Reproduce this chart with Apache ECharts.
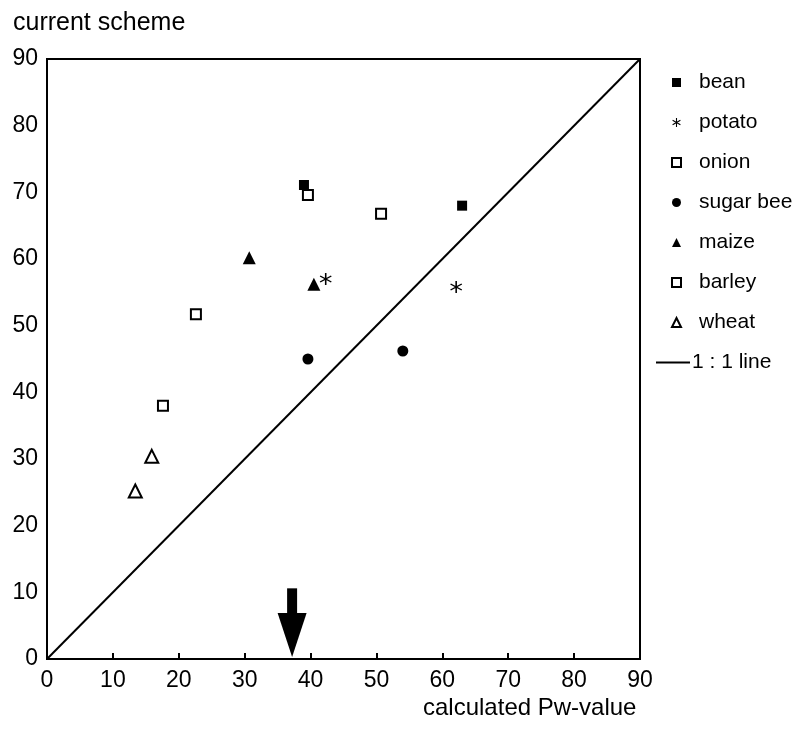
<!DOCTYPE html>
<html>
<head>
<meta charset="utf-8">
<script src="https://cdn.jsdelivr.net/npm/echarts@6/dist/echarts.min.js"></script>
<style>
  html, body { margin: 0; padding: 0; background: #fff; }
  #chart { width: 792px; height: 744px; }
</style>
</head>
<body>
<div id="chart"></div>
<script>
// values: [calculated Pw-value, current scheme]
var bean = [[39.0, 71.1], [63.0, 68.0]];
var potato = [[42.3, 57.0], [62.1, 55.8]];
var onion = [[39.6, 69.6], [50.7, 66.8]];
var sugarBeet = [[39.6, 45.0], [54.0, 46.2]];
var maize = [[30.7, 60.2], [40.5, 56.2]];
var barley = [[22.6, 51.7], [17.6, 38.0]];
var wheat = [[15.9, 30.4], [13.4, 25.2]];
var oneToOne = [[0, 0], [90, 90]];
var arrowAt = 37.2;
var axisTicks = [0, 10, 20, 30, 40, 50, 60, 70, 80, 90];

var font = "'Liberation Sans', Arial, sans-serif";
// asterisk made of three bars
var star = "path://M4.4 0 L5.6 0 L5.6 10 L4.4 10 Z M0.97 1.98 L9.63 6.98 L9.03 8.02 L0.37 3.02 Z M0.37 6.98 L9.03 1.98 L9.63 3.02 L0.97 8.02 Z";

var chart = echarts.init(document.getElementById("chart"));

function pts(name, data, symbol, size, filled) {
  return {
    name: name,
    type: "scatter",
    data: data,
    symbol: symbol,
    symbolSize: size,
    z: 5,
    itemStyle: filled
      ? { color: "#000", borderColor: "#000", borderWidth: 0, opacity: 1 }
      : { color: "#fff", borderColor: "#000", borderWidth: 2, opacity: 1 }
  };
}

var option = {
  animation: false,
  backgroundColor: "#fff",
  title: [
    { text: "current scheme", left: 8, top: 6,
      textStyle: { fontFamily: font, fontSize: 25, fontWeight: "normal", color: "#000" } },
    { text: "calculated Pw-value", left: 418, top: 691,
      textStyle: { fontFamily: font, fontSize: 24, fontWeight: "normal", color: "#000" } }
  ],
  grid: { left: 47, right: 152, top: 59, bottom: 85, show: true, borderColor: "#000", borderWidth: 2 },
  legend: [
    {
      orient: "vertical", left: 666, top: 67,
      itemWidth: 9, itemHeight: 9, itemGap: 19,
      selectedMode: false,
      textStyle: { fontFamily: font, fontSize: 21, color: "#000", padding: [0, 0, 0, 13] },
      data: ["bean", "potato", "onion", "sugar beet", "maize", "barley", "wheat"]
    },
    {
      orient: "vertical", left: 651, top: 347,
      itemWidth: 34, itemHeight: 2,
      selectedMode: false,
      textStyle: { fontFamily: font, fontSize: 21, color: "#000", padding: [0, 0, 0, -3] },
      data: [{ name: "1 : 1 line", icon: "rect" }]
    }
  ],
  xAxis: {
    type: "value", min: 0, max: 90, interval: 10,
    splitLine: { show: false },
    axisLine: { lineStyle: { color: "#000", width: 2 } },
    axisTick: { show: true, inside: true, length: 6, lineStyle: { color: "#000", width: 2 } },
    axisLabel: { fontFamily: font, fontSize: 23, color: "#000", margin: 10,
      formatter: function (v) { return axisTicks.indexOf(v) >= 0 ? String(v) : ""; } }
  },
  yAxis: {
    type: "value", min: 0, max: 90, interval: 10,
    splitLine: { show: false },
    axisLine: { lineStyle: { color: "#000", width: 2 } },
    axisTick: { show: false },
    axisLabel: { fontFamily: font, fontSize: 23, color: "#000", margin: 9 }
  },
  series: [
    {
      name: "1 : 1 line", type: "line", data: oneToOne,
      symbol: "none", z: 2,
      lineStyle: { color: "#000", width: 2 },
      itemStyle: { color: "#000" }
    },
    // arrow shaft and head
    {
      type: "line", data: [[arrowAt, 10.6], [arrowAt, 6.4]],
      symbol: "none", silent: true, z: 3,
      lineStyle: { color: "#000", width: 10, cap: "butt" }
    },
    {
      type: "scatter", data: [[arrowAt, 3.6]],
      symbol: "triangle", symbolRotate: 180, symbolSize: [29, 44],
      silent: true, z: 3,
      itemStyle: { color: "#000", opacity: 1 }
    },
    pts("bean", bean, "rect", 10, true),
    pts("potato", potato, star, 12, true),
    pts("onion", onion, "rect", 10, false),
    pts("sugar beet", sugarBeet, "circle", 11, true),
    pts("maize", maize, "triangle", 13, true),
    pts("barley", barley, "rect", 10, false),
    pts("wheat", wheat, "triangle", 13, false)
  ]
};

chart.setOption(option);
</script>
</body>
</html>
